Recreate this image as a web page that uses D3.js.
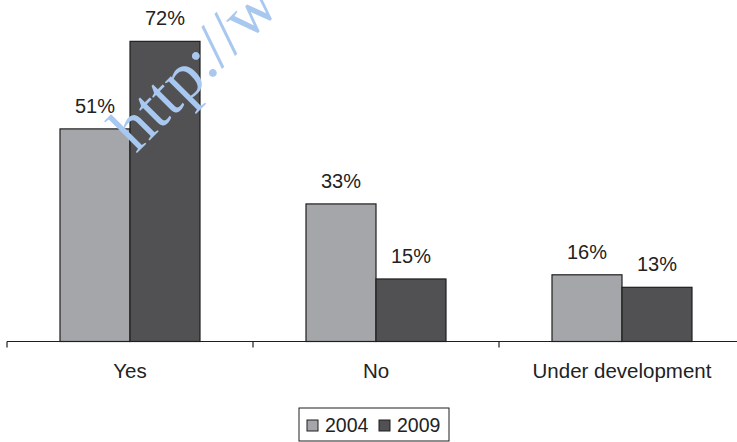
<!DOCTYPE html>
<html>
<head>
<meta charset="utf-8">
<script src="https://cdn.jsdelivr.net/npm/d3@7"></script>
<style>
  body { margin: 0; background: #fff; }
  svg { display: block; }
</style>
</head>
<body>
<div class="chart"></div>
<script>
const categories = ['Yes', 'No', 'Under development'];
const years = ['2004', '2009'];
const values2004 = [51, 33, 16];
const values2009 = [72, 15, 13];

const width = 737,
  height = 442,
  baseY = 341.5,
  color2004 = '#a5a6a9',
  color2009 = '#515154',
  strokeColor = '#1e1e1e',
  textColor = '#222',
  font = '"Liberation Sans", Arial, sans-serif';

const data = categories.map((c, i) => ({
  category: c,
  bars: [
    { year: '2004', value: values2004[i] },
    { year: '2009', value: values2009[i] }
  ]
}));

const svg = d3.select('.chart')
  .append('svg')
  .attr('width', width)
  .attr('height', height);

const x0 = d3.scaleBand()
  .domain(categories)
  .range([7, 745]);

const x1 = d3.scaleBand()
  .domain(years)
  .range([(x0.bandwidth() - 140) / 2, (x0.bandwidth() + 140) / 2]);

const y = d3.scaleLinear()
  .domain([0, 80])
  .range([baseY, 8]);

const colorScale = d3.scaleOrdinal()
  .domain(years)
  .range([color2004, color2009]);

const groups = svg.selectAll('.group')
  .data(data)
  .enter()
  .append('g')
  .attr('class', 'group')
  .attr('transform', d => `translate(${x0(d.category)},0)`);

groups.selectAll('rect')
  .data(d => d.bars)
  .enter()
  .append('rect')
  .attr('x', d => x1(d.year))
  .attr('y', d => y(d.value))
  .attr('width', x1.bandwidth())
  .attr('height', d => baseY - y(d.value))
  .attr('fill', d => colorScale(d.year))
  .attr('stroke', strokeColor)
  .attr('stroke-width', 1.2);

groups.selectAll('.label')
  .data(d => d.bars)
  .enter()
  .append('text')
  .attr('class', 'label')
  .attr('x', d => x1(d.year) + x1.bandwidth() / 2)
  .attr('y', d => y(d.value) - 16)
  .attr('text-anchor', 'middle')
  .attr('fill', textColor)
  .style('font', `20px ${font}`)
  .text(d => d.value + '%');

// axis line with ticks at the band edges
const axis = svg.append('g');

axis.append('line')
  .attr('x1', x0.range()[0])
  .attr('x2', width)
  .attr('y1', baseY)
  .attr('y2', baseY)
  .attr('stroke', strokeColor)
  .attr('stroke-width', 1.2);

axis.selectAll('.tick')
  .data(categories)
  .enter()
  .append('line')
  .attr('x1', d => x0(d))
  .attr('x2', d => x0(d))
  .attr('y1', baseY)
  .attr('y2', baseY + 6)
  .attr('stroke', strokeColor)
  .attr('stroke-width', 1.2);

axis.selectAll('.cat')
  .data(categories)
  .enter()
  .append('text')
  .attr('x', d => x0(d) + x0.bandwidth() / 2)
  .attr('y', 378)
  .attr('text-anchor', 'middle')
  .attr('fill', textColor)
  .style('font', `20.5px ${font}`)
  .text(d => d);

// legend
const legend = svg.append('g')
  .attr('transform', 'translate(299,408)');

legend.append('rect')
  .attr('width', 150)
  .attr('height', 33)
  .attr('fill', '#fff')
  .attr('stroke', strokeColor)
  .attr('stroke-width', 1);

const legendItems = legend.selectAll('.item')
  .data(years)
  .enter()
  .append('g')
  .attr('transform', (d, i) => `translate(${8 + i * 72},12)`);

legendItems.append('rect')
  .attr('width', 11)
  .attr('height', 11)
  .attr('fill', d => colorScale(d))
  .attr('stroke', strokeColor)
  .attr('stroke-width', 1);

legendItems.append('text')
  .attr('x', 18)
  .attr('y', 12)
  .attr('fill', textColor)
  .style('font', `19.5px ${font}`)
  .text(d => d);

// watermark stamped over the source picture (cut by the top edge there too)
svg.append('text')
  .attr('transform', 'translate(136,154) rotate(-45)')
  .attr('fill', '#a9c8ef')
  .style('font', '66px "Liberation Serif", "Times New Roman", serif')
  .text('http://w');
</script>
</body>
</html>
